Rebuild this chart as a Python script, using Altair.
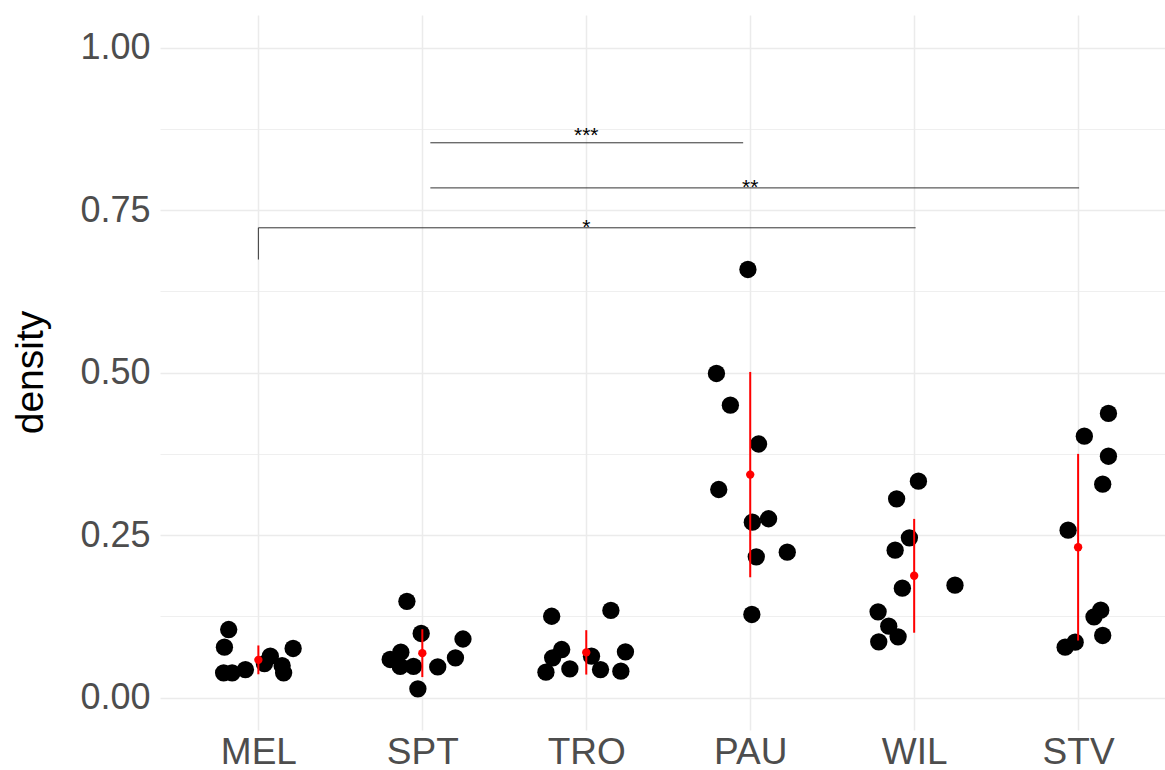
import altair as alt
import pandas as pd

# ---------------- data ----------------
groups = ["MEL", "SPT", "TRO", "PAU", "WIL", "STV"]

mel_density = [0.1046, 0.0774, 0.038, 0.038, 0.043, 0.0636, 0.052, 0.049, 0.038, 0.0754]
mel_jitter = [-0.181, -0.207, -0.212, -0.160, -0.079, 0.073, 0.037, 0.145, 0.154, 0.212]

spt_density = [0.148, 0.0985, 0.0585, 0.0697, 0.048, 0.048, 0.0134, 0.047, 0.061, 0.090]
spt_jitter = [-0.094, -0.007, -0.196, -0.131, -0.135, -0.054, -0.027, 0.094, 0.202, 0.248]

tro_density = [0.125, 0.134, 0.0738, 0.061, 0.039, 0.044, 0.0636, 0.043, 0.0405, 0.0703]
tro_jitter = [-0.211, 0.150, -0.150, -0.205, -0.246, -0.100, 0.032, 0.087, 0.211, 0.239]

pau_density = [0.6585, 0.4985, 0.4497, 0.390, 0.320, 0.2697, 0.275, 0.2164, 0.2236, 0.1277]
pau_jitter = [-0.014, -0.206, -0.121, 0.051, -0.192, 0.013, 0.112, 0.037, 0.226, 0.010]

wil_density = [0.3328, 0.3057, 0.2457, 0.2266, 0.1682, 0.1728, 0.1318, 0.1097, 0.0933, 0.0856]
wil_jitter = [0.026, -0.107, -0.029, -0.116, -0.072, 0.249, -0.220, -0.155, -0.098, -0.216]

stv_density = [0.437, 0.402, 0.3712, 0.3282, 0.2574, 0.1343, 0.1241, 0.0954, 0.0851, 0.0774]
stv_jitter = [0.185, 0.038, 0.185, 0.150, -0.061, 0.138, 0.097, 0.150, -0.018, -0.079]

all_density = [mel_density, spt_density, tro_density, pau_density, wil_density, stv_density]
all_jitter = [mel_jitter, spt_jitter, tro_jitter, pau_jitter, wil_jitter, stv_jitter]

# significance brackets (x in category positions, y in density units)
seg_x1 = [2.049, 2.049, 1.0, 1.0]
seg_x2 = [3.957, 6.006, 5.009, 1.0]
seg_y1 = [0.8534, 0.784, 0.7226, 0.7226]
seg_y2 = [0.8534, 0.784, 0.7226, 0.6738]

sig_text = ["***", "**", "*"]
sig_x = [3.0, 4.0, 3.0]
sig_y = [0.8728, 0.7938, 0.7318]

# ---------------- tables ----------------
rows = []
for i, g in enumerate(groups):
    for d, j in zip(all_density[i], all_jitter[i]):
        rows.append({"group": g, "pos": i + 1, "jx": i + 1 + j, "density": d})
df = pd.DataFrame(rows)

seg_df = pd.DataFrame({"x1": seg_x1, "x2": seg_x2, "y1": seg_y1, "y2": seg_y2})
lab_df = pd.DataFrame({"x": sig_x, "y": sig_y, "text": sig_text})

FONT = "Liberation Sans"

x_scale = alt.Scale(domain=[0.4, 6.53], nice=False, zero=False)
y_scale = alt.Scale(domain=[-0.05, 1.05], nice=False, zero=False)

label_expr = "[" + ",".join("'%s'" % g for g in groups) + "][datum.value - 1]"

x_axis = alt.Axis(
    values=list(range(1, len(groups) + 1)),
    labelExpr=label_expr,
    title=None,
    ticks=False,
    tickSize=0,
    domain=False,
    grid=True,
    gridColor="#EBEBEB",
    gridWidth=1.5,
    labelFont=FONT,
    labelFontSize=37,
    labelColor="#4D4D4D",
    labelBaseline="alphabetic",
    labelPadding=33,
)

y_axis = alt.Axis(
    values=[i * 0.125 for i in range(9)],
    labelExpr="abs(datum.value*4 - round(datum.value*4)) < 0.01 ? format(datum.value, '.2f') : ''",
    title="density",
    ticks=False,
    tickSize=0,
    domain=False,
    grid=True,
    gridColor="#EBEBEB",
    gridWidth={"condition": {"test": "abs(datum.value*4 - round(datum.value*4)) > 0.01", "value": 0.8}, "value": 1.5},
    labelFont=FONT,
    labelFontSize=36,
    labelColor="#4D4D4D",
    labelPadding=10,
    titleFont=FONT,
    titleFontSize=39,
    titleFontWeight="normal",
    titleColor="black",
    titleAngle=270,
    titleAlign="center",
    titleBaseline="alphabetic",
    titleX=-118,
    titleY=357,
)

points = alt.Chart(df).mark_circle(color="black", size=300, opacity=1).encode(
    x=alt.X("jx:Q", scale=x_scale, axis=x_axis),
    y=alt.Y("density:Q", scale=y_scale, axis=y_axis),
)

errbars = alt.Chart(df).mark_errorbar(extent="stdev", color="red", thickness=2, ticks=False).encode(
    x=alt.X("pos:Q", scale=x_scale, axis=x_axis),
    y=alt.Y("density:Q", scale=y_scale, axis=y_axis),
)

means = alt.Chart(df).mark_circle(color="red", size=70, opacity=1).encode(
    x=alt.X("pos:Q", scale=x_scale, axis=x_axis),
    y=alt.Y("mean(density):Q", scale=y_scale, axis=y_axis),
)

brackets = alt.Chart(seg_df).mark_rule(color="#333333", strokeWidth=1).encode(
    x=alt.X("x1:Q", scale=x_scale, axis=x_axis),
    x2="x2:Q",
    y=alt.Y("y1:Q", scale=y_scale, axis=y_axis),
    y2="y2:Q",
)

labels = alt.Chart(lab_df).mark_text(
    font=FONT, fontSize=21, color="black", baseline="alphabetic", align="center", dy=12
).encode(
    x=alt.X("x:Q", scale=x_scale, axis=x_axis),
    y=alt.Y("y:Q", scale=y_scale, axis=y_axis),
    text="text:N",
)

chart = (
    alt.layer(points, errbars, means, brackets, labels)
    .properties(
        width=1005,
        height=715,
        autosize=alt.AutoSizeParams(type="none"),
        padding={"left": 160, "top": 15, "right": 0, "bottom": 40},
        background="white",
    )
    .configure_view(stroke=None)
)

chart.save("out.html", embed_options={"renderer": "svg", "actions": False})
